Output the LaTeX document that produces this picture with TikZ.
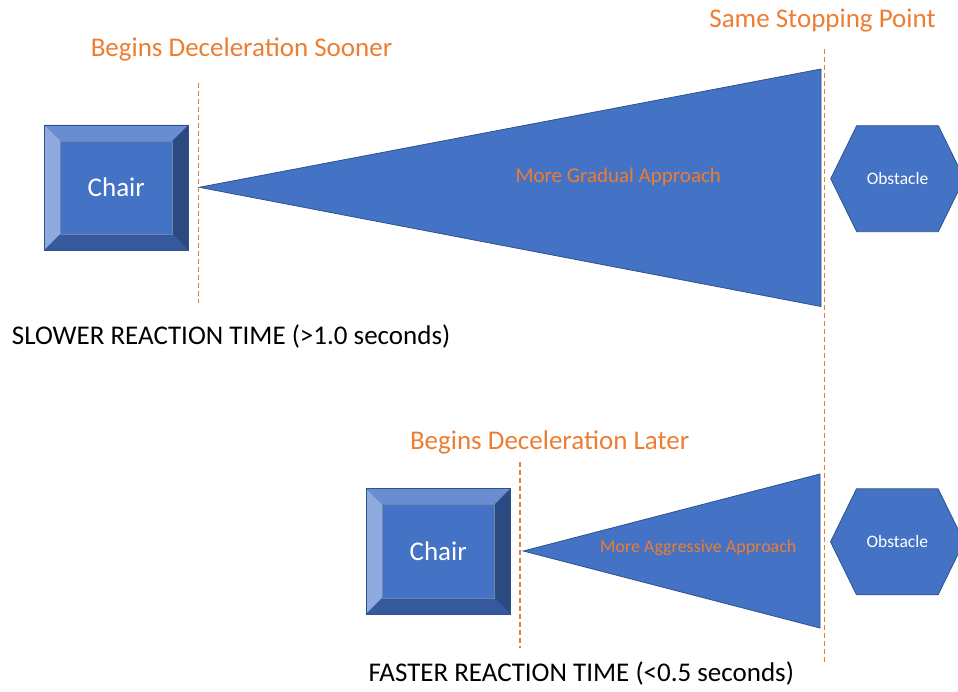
\documentclass[tikz,border=0pt]{standalone}
\usepackage{fontspec}
\setmainfont{Carlito}
\usetikzlibrary{calc}
\definecolor{accent}{HTML}{ED7D31}
\definecolor{fillblue}{HTML}{4472C4}
\definecolor{edgeblue}{HTML}{2F528F}
\definecolor{bevtop}{HTML}{6A8DD2}
\definecolor{bevleft}{HTML}{8FAADC}
\definecolor{bevright}{HTML}{2B4A7F}
\definecolor{bevbottom}{HTML}{35599C}
\tikzset{
  chairbox/.style={rectangle, fill=fillblue, minimum width=144pt, minimum height=125pt,
    inner sep=0pt, text=white, font=\fontsize{27}{32}\selectfont},
  hexlabel/.style={inner sep=0pt, text=white, font=\fontsize{17.5}{21}\selectfont},
  wedge/.style={fill=fillblue, draw=edgeblue, line width=0.8pt, line join=miter},
  hexshape/.style={fill=fillblue, draw=edgeblue, line width=0.8pt},
  marker/.style={draw=accent, line width=1.3pt, dash pattern=on 5pt off 3pt},
  headline/.style={text=accent, inner sep=0pt, anchor=base, font=\fontsize{27}{32}\selectfont},
  innerlabel/.style={text=accent, inner sep=0pt, anchor=base},
  caption/.style={text=black, inner sep=0pt, anchor=base west, font=\fontsize{27}{32}\selectfont},
}
\begin{document}
\begin{tikzpicture}[x=1pt, y=-1pt]
  \useasboundingbox (0,0) rectangle (958,692);

  % ---------- slower reaction (top row) ----------
  \coordinate (tip1) at (199.3,187.3);
  \coordinate (wideTop1) at (821,69);
  \coordinate (wideBot1) at (821,306.5);
  \filldraw[wedge] (tip1) -- (wideTop1) -- (wideBot1) -- cycle;

  \coordinate (hexc1) at (897.5,178.7);
  \filldraw[hexshape] ($(hexc1)+(-66.8,0)$) -- ($(hexc1)+(-40.8,-53)$) -- ($(hexc1)+(40.8,-53)$)
    -- ($(hexc1)+(66.8,0)$) -- ($(hexc1)+(40.8,53)$) -- ($(hexc1)+(-40.8,53)$) -- cycle;
  \node[hexlabel] (obst1) at (hexc1) {Obstacle};

  \node[chairbox] (chair1) at (116.3,187.5) {Chair};

  % ---------- faster reaction (bottom row) ----------
  \coordinate (tip2) at (523.3,551);
  \coordinate (wideTop2) at (820,474);
  \coordinate (wideBot2) at (820,628);
  \filldraw[wedge] (tip2) -- (wideTop2) -- (wideBot2) -- cycle;

  \coordinate (hexc2) at (897.3,541.8);
  \filldraw[hexshape] ($(hexc2)+(-66.8,0)$) -- ($(hexc2)+(-40.8,-53)$) -- ($(hexc2)+(40.8,-53)$)
    -- ($(hexc2)+(66.8,0)$) -- ($(hexc2)+(40.8,53)$) -- ($(hexc2)+(-40.8,53)$) -- cycle;
  \node[hexlabel] (obst2) at (hexc2) {Obstacle};

  \node[chairbox] (chair2) at (438.2,551.3) {Chair};

  % bevelled frames of both chair buttons
  \foreach \c in {chair1,chair2}{
    \fill[bevtop] (\c.north west) -- (\c.north east) -- ($(\c.north east)+(-16,16)$) -- ($(\c.north west)+(16,16)$) -- cycle;
    \fill[bevleft] (\c.north west) -- ($(\c.north west)+(16,16)$) -- ($(\c.south west)+(16,-16)$) -- (\c.south west) -- cycle;
    \fill[bevright] (\c.north east) -- (\c.south east) -- ($(\c.south east)+(-16,-16)$) -- ($(\c.north east)+(-16,16)$) -- cycle;
    \fill[bevbottom] (\c.south west) -- ($(\c.south west)+(16,-16)$) -- ($(\c.south east)+(-16,-16)$) -- (\c.south east) -- cycle;
    \draw[edgeblue, line width=0.5pt] (\c.north west) rectangle (\c.south east);
    \draw[edgeblue!70, line width=0.4pt] ($(\c.north west)+(16,16)$) rectangle ($(\c.south east)+(-16,-16)$);
  }

  % ---------- dashed markers ----------
  \coordinate (mk1a) at (198.7,83.3);
  \coordinate (mk1b) at (198.7,302.7);
  \draw[marker] (mk1a) -- (mk1b);
  \coordinate (mk2a) at (520,461.7);
  \coordinate (mk2b) at (520,648);
  \draw[marker] (mk2a) -- (mk2b);
  \coordinate (stopA) at (824.3,49);
  \coordinate (stopB) at (824.3,662);
  \draw[marker] (stopA) -- (stopB);

  % ---------- labels ----------
  \node[headline] (sooner) at (241.5,56.7) {Begins Deceleration Sooner};
  \node[headline] (samestop) at (822.5,27.3) {Same Stopping Point};
  \node[innerlabel, font=\fontsize{21}{25}\selectfont] (gradual) at (618.3,182.3) {More Gradual Approach};
  \node[caption] (slower) at (11.7,344.3) {SLOWER REACTION TIME (>1.0 seconds)};
  \node[headline] (later) at (549.6,449.3) {Begins Deceleration Later};
  \node[innerlabel, font=\fontsize{18}{22}\selectfont] (aggressive) at (698.3,552.3) {More Aggressive Approach};
  \node[caption] (faster) at (368.3,681.7) {FASTER REACTION TIME (<0.5 seconds)};
\end{tikzpicture}
\end{document}
